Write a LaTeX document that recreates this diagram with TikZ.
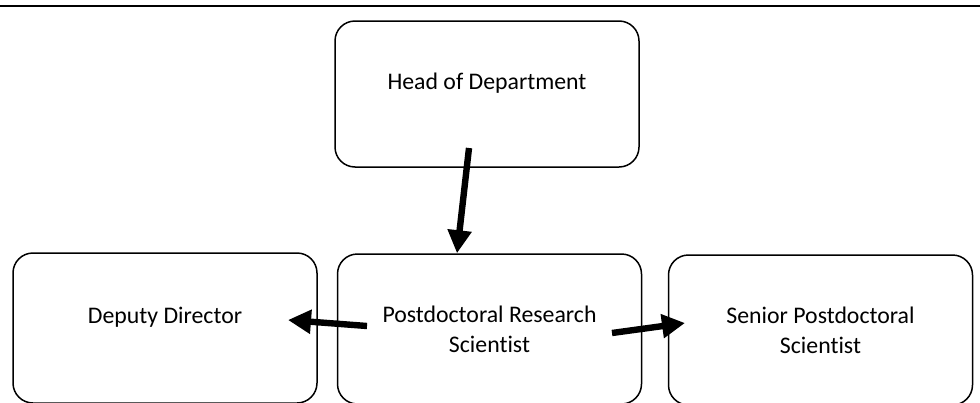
\documentclass[tikz,border=0pt]{standalone}
\usepackage{fontspec}
\setmainfont{Carlito}[Ligatures=NoCommon]
\usetikzlibrary{arrows.meta}
\tikzset{
	orgbox/.style={draw, rounded corners=10pt, line width=0.75pt,
			minimum width=152pt, minimum height=73pt, align=center,
			font=\fontsize{11.9}{15}\selectfont},
	lowbox/.style={orgbox, minimum height=75pt},
	oneline/.style={text depth=13pt},
	bigarrow/.style={line width=3.2pt, -{Triangle[length=11.5pt,width=11.5pt]}}
}

\begin{document}
\begin{tikzpicture}[x=0.5pt, y=-0.5pt]
			\useasboundingbox (0,0) rectangle (980,402);
			\clip (0,0) rectangle (980,402);
			% Rule at the top
			\draw[line width=1.1pt] (0,6) -- (980,6);
			% Boxes
			\node[orgbox, oneline] (head) at (487,94) {Head of Department};
			\node[lowbox] (postdoc) at (489.5,329) {Postdoctoral Research\\Scientist};
			\node[lowbox, oneline] (deputy) at (165,328) {Deputy Director};
			\node[lowbox] (senior) at (820.5,330) {Senior Postdoctoral\\Scientist};
			% Arrows
			\draw[bigarrow] ([shift={(-18,54)}]head.center) -- ([shift={(-32.5,0)}]postdoc.north);
			\draw[bigarrow] ([shift={(-122.5,-3)}]postdoc.center) -- ([shift={(123,-8)}]deputy.center);
			\draw[bigarrow] ([shift={(122.5,4)}]postdoc.center) -- ([shift={(-135.5,-7)}]senior.center);
		\end{tikzpicture}
\end{document}
